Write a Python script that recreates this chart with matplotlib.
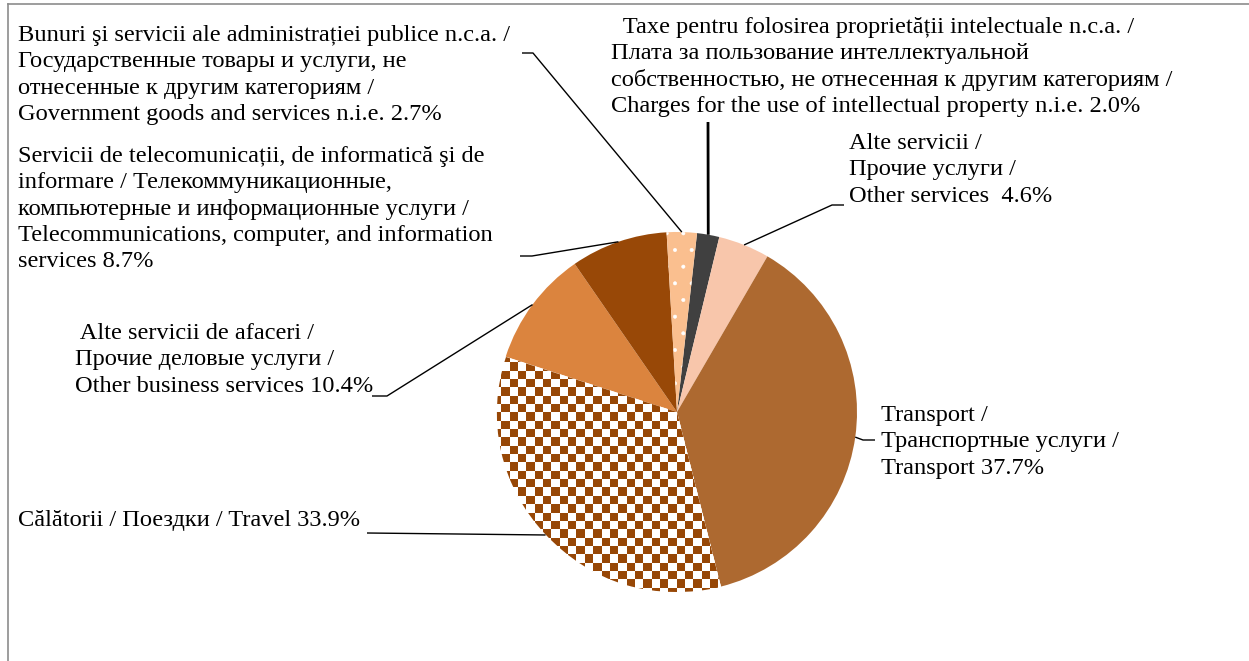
import numpy as np
import matplotlib
matplotlib.use("Agg")
import matplotlib.pyplot as plt
from matplotlib.colors import ListedColormap

W, H = 1249, 661

# ---- data -------------------------------------------------------------
keys = ["charges", "other", "transport", "travel", "business", "telecom", "government"]
shares = [2.0, 4.6, 37.7, 33.9, 10.4, 8.7, 2.7]
label_text = [
    "  Taxe pentru folosirea proprietății intelectuale n.c.a. /\n"
    "Плата за пользование интеллектуальной\n"
    "собственностью, не отнесенная к другим категориям /\n"
    "Charges for the use of intellectual property n.i.e. {v}",
    "Alte servicii /\nПрочие услуги /\nOther services  {v}",
    "Transport /\nТранспортные услуги /\nTransport {v}",
    "Călătorii / Поездки / Travel {v}",
    " Alte servicii de afaceri /\nПрочие деловые услуги /\nOther business services {v}",
    "Servicii de telecomunicații, de informatică şi de\n"
    "informare / Телекоммуникационные,\n"
    "компьютерные и информационные услуги /\n"
    "Telecommunications, computer, and information\n"
    "services {v}",
    "Bunuri şi servicii ale administrației publice n.c.a. /\n"
    "Государственные товары и услуги, не\n"
    "отнесенные к другим категориям /\n"
    "Government goods and services n.i.e. {v}",
]
colors = ["#404040", "#F8C6AB", "#AD6930", "#FFFFFF", "#DB843E", "#984807", "#FABF8F"]

# ---- layout (image pixel coords, y downward) --------------------------
CX, CY, R = 677, 412, 180
START = 90 - 6.4
label_pos = {  # left x, first baseline y
    "charges": (611, 33),
    "other": (849, 149),
    "transport": (881, 421),
    "travel": (18, 526),
    "business": (75, 339),
    "telecom": (18, 162),
    "government": (18, 41),
}
leader_pts = {  # points after the wedge edge
    "charges": [(708, 122)],
    "other": [(832, 205), (844, 205)],
    "transport": [(863, 440), (875, 440)],
    "travel": [(367, 533)],
    "business": [(387, 396), (372, 396)],
    "telecom": [(532, 256), (520, 256)],
    "government": [(533, 53), (522, 53)],
}
LINE_H = 26.3
FS = 17.6

plt.rcParams["font.family"] = ["Liberation Serif", "DejaVu Serif"]
plt.rcParams["hatch.linewidth"] = 0.4

fig = plt.figure(figsize=(W / 100, H / 100), dpi=100)
ax = fig.add_axes([0, 0, 1, 1])


def Y(y):
    return H - y


wedges, _ = ax.pie(shares, colors=colors, startangle=START, counterclock=False,
                   center=(CX, Y(CY)), radius=R,
                   wedgeprops=dict(linewidth=0, antialiased=True))

# government: dotted pattern
g = wedges[keys.index("government")]
g.set_edgecolor("white")
g.set_linewidth(0)
g.set_hatch(".")

# travel: checkerboard pattern clipped to the wedge
cell = 8.35
n = int(np.ceil(2 * R / cell)) + 2
x0, y0 = CX - R - 4, Y(CY) - R - 4
xe = x0 + cell * np.arange(n + 1)
ye = y0 + cell * np.arange(n + 1)
ii, jj = np.indices((n, n))
board = (ii + jj) % 2
cmap = ListedColormap(["#FFFFFF", "#974706"])
t = wedges[keys.index("travel")]
mesh = ax.pcolormesh(xe, ye, board, cmap=cmap, vmin=0, vmax=1,
                     antialiased=False, linewidth=0,
                     zorder=t.get_zorder() + 0.1)
mesh.set_clip_path(t)

# leader lines and labels
for k, w, v, txt in zip(keys, wedges, shares, label_text):
    mid = np.deg2rad((w.theta1 + w.theta2) / 2)
    ex = CX + R * np.cos(mid)
    ey = Y(CY) + R * np.sin(mid)
    pts = [(ex, ey)] + [(px, Y(py)) for px, py in leader_pts[k]]
    xs, ys = zip(*pts)
    lw = 2.0 if k == "charges" else 1.0
    ax.plot(xs, ys, color="black", lw=lw, solid_capstyle="butt", zorder=5)
    lx, ly = label_pos[k]
    for i, line in enumerate(txt.format(v=f"{v:.1f}%").split("\n")):
        ax.text(lx, Y(ly + i * LINE_H), line, ha="left", va="baseline",
                fontsize=FS, color="black")

# chart frame (partially visible)
ax.plot([8.5, 8.5], [0, Y(3.5)], color="#8C8C8C", lw=1.2, clip_on=False)
ax.plot([8.5, W], [Y(3.5), Y(3.5)], color="#8C8C8C", lw=1.2, clip_on=False)

ax.set_xlim(0, W)
ax.set_ylim(0, H)
ax.set_aspect("auto")
ax.axis("off")

fig.savefig("out.png", dpi=100, facecolor="white")
